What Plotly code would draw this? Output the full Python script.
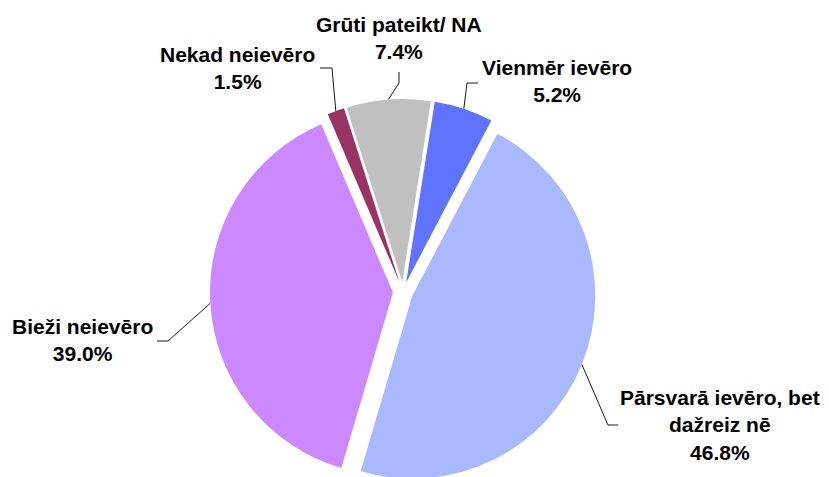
import math

import plotly.graph_objects as go

# slice data, clockwise from the top
labels = ['Vienmēr ievēro', 'Pārsvarā ievēro, bet<br>dažreiz nē', 'Bieži neievēro',
          'Nekad neievēro', 'Grūti pateikt/ NA']
shares = [5.2, 46.8, 39.0, 1.5, 7.4]
colors = ['#5F73FF', '#AAB8FF', '#CC88FF', '#993366', '#C0C0C0']

W, H = 829, 477
PAGE_MARGIN = 8  # default body margin of the html page
ROTATION = 9
PULL = 0.055

# pie box in page pixels (left, top, right, bottom)
box = (210, 99, 596, 485)
cx = (box[0] + box[2]) / 2
cy = (box[1] + box[3]) / 2
radius = min(box[2] - box[0], box[3] - box[1]) / (2 + 2 * PULL)

# label placement: text centre and leader elbow/end points (page pixels)
label_pos = [(557, 80.5), (720, 425), (82, 339.5), (237, 67.5), (399, 38)]
leader_knee = [(467, 83), (608, 425), (168, 341), (332, 68), (399, 83)]
leader_end = [(478, 83), (618, 425), (157, 341), (320, 68), (399, 72)]


def dom(a, b, size, flip=False):
    lo, hi = (a - PAGE_MARGIN) / size, (b - PAGE_MARGIN) / size
    return [1 - hi, 1 - lo] if flip else [lo, hi]


fig = go.Figure()

fig.add_trace(go.Pie(
    labels=labels,
    values=shares,
    sort=False,
    direction='clockwise',
    rotation=ROTATION,
    pull=[PULL] * len(shares),
    marker=dict(colors=colors, line=dict(width=0)),
    textinfo='none',
    hoverinfo='label+percent',
    showlegend=False,
    domain=dict(x=dom(box[0], box[2], W), y=dom(box[1], box[3], H, flip=True)),
))

# leader lines from the middle of each slice's outer edge
total = sum(shares)
start = ROTATION
for i, v in enumerate(shares):
    mid = math.radians(start + v / total * 360 / 2)
    start += v / total * 360
    rr = radius * (1 + PULL)
    ax = cx + rr * math.sin(mid)
    ay = cy - rr * math.cos(mid)
    fig.add_trace(go.Scatter(
        x=[ax, leader_knee[i][0], leader_end[i][0]],
        y=[ay, leader_knee[i][1], leader_end[i][1]],
        mode='lines',
        line=dict(color='#1a1a1a', width=1),
        hoverinfo='skip',
        showlegend=False,
    ))
    fig.add_annotation(
        x=label_pos[i][0], y=label_pos[i][1],
        xref='x', yref='y',
        text=f'{labels[i]}<br>{v:.1f}%',
        showarrow=False,
        xanchor='center', yanchor='middle',
        font=dict(family='Liberation Sans, Arial', size=21, color='black', weight='bold'),
    )

fig.update_layout(
    width=W,
    height=H,
    margin=dict(t=0, b=0, l=0, r=0),
    paper_bgcolor='white',
    plot_bgcolor='rgba(0,0,0,0)',
    xaxis=dict(range=[PAGE_MARGIN, W + PAGE_MARGIN], visible=False, fixedrange=True),
    yaxis=dict(range=[H + PAGE_MARGIN, PAGE_MARGIN], visible=False, fixedrange=True),
)

fig.write_html('out.html')
